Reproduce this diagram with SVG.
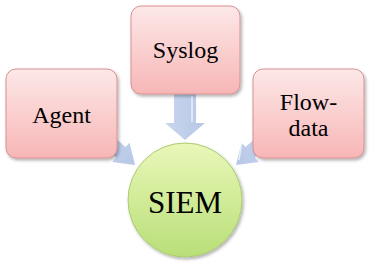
<svg xmlns="http://www.w3.org/2000/svg" width="372" height="267" viewBox="0 0 372 267">
<style>
.box{fill:url(#pink);stroke:#d99090;stroke-width:1;filter:url(#sh)}
.lbl{font-family:"Liberation Serif",serif;font-size:24px;fill:#000;text-anchor:middle}
.arr{fill:url(#blue)}
.hl{fill:none;stroke:#ffffff;stroke-opacity:0.7;stroke-width:1.5}
</style>
<defs>
<linearGradient id="pink" x1="0" y1="0" x2="0" y2="1">
<stop offset="0" stop-color="#fde8e8"/>
<stop offset="1" stop-color="#f7b6b6"/>
</linearGradient>
<linearGradient id="green" x1="0" y1="0" x2="0" y2="1">
<stop offset="0" stop-color="#e9f7b8"/>
<stop offset="1" stop-color="#b9df78"/>
</linearGradient>
<linearGradient id="blue" x1="0" y1="0" x2="1" y2="0">
<stop offset="0" stop-color="#c9d6ee"/>
<stop offset="1" stop-color="#b6c7e6"/>
</linearGradient>
<filter id="sh" x="-20%" y="-20%" width="150%" height="150%">
<feDropShadow dx="1.5" dy="2" stdDeviation="1.8" flood-color="#000" flood-opacity="0.3"/>
</filter>
<path id="darr" d="M0,0 L-19,-13 V-7 H-50 V7 H-19 V13 Z"/>
</defs>
<g id="connectors">
<g id="arrow-syslog">
<path class="arr" d="M174,94 H196 V123 H205 L185,140 L165,123 H174 Z"/>
<path class="hl" d="M192,96 V122"/>
</g>
<g id="arrow-agent">
<use href="#darr" class="arr" transform="translate(135,165) rotate(41.8)"/>
</g>
<g id="arrow-flow">
<use href="#darr" class="arr" transform="translate(236,165) rotate(138.2)"/>
<path class="hl" d="M242,140 L239,160"/>
</g>
</g>
<g id="agent">
<rect class="box" x="6" y="69" width="111" height="89" rx="10"/>
<text class="lbl" x="61.5" y="123">Agent</text>
</g>
<g id="syslog">
<rect class="box" x="131" y="6" width="109" height="88" rx="10"/>
<text class="lbl" x="185.5" y="58">Syslog</text>
</g>
<g id="flowdata">
<rect class="box" x="253" y="69" width="111" height="89" rx="10"/>
<text class="lbl" x="308.5" y="110">Flow-</text>
<text class="lbl" x="308.5" y="136">data</text>
</g>
<g id="siem">
<circle cx="185" cy="200" r="57" fill="url(#green)" stroke="#aacb70" stroke-width="1" filter="url(#sh)"/>
<text class="lbl" x="185" y="213" style="font-size:31px">SIEM</text>
</g>
</svg>
